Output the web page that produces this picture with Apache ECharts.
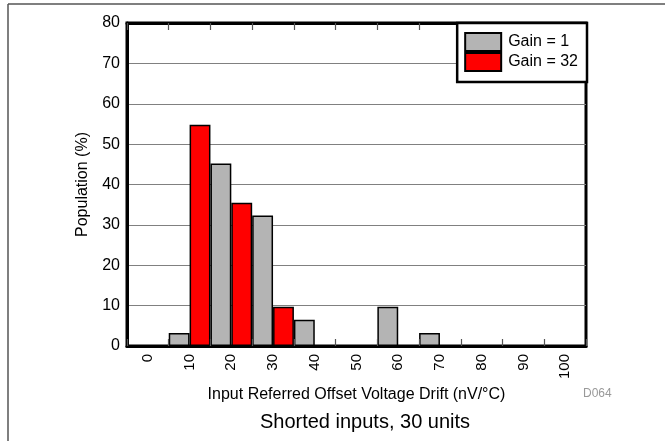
<!DOCTYPE html>
<html>
<head>
<meta charset="utf-8">
<script src="https://cdn.jsdelivr.net/npm/echarts@6/dist/echarts.min.js"></script>
<style>html,body{margin:0;padding:0;background:#fff;}#c{width:665px;height:441px;}</style>
</head>
<body>
<div id="c"></div>
<script>
const categories = ['0','10','20','30','40','50','60','70','80','90','100'];
const gain1 = [null, 3.2, 45.2, 32.3, 6.5, null, 9.7, 3.2, null, null, null];
const gain32 = [null, 54.8, 35.5, 9.7, null, null, null, null, null, null, null];
const yTicks = {min: 0, max: 80, interval: 10};

const FONT = '"Liberation Sans", Arial, Helvetica, sans-serif';
const chart = echarts.init(document.getElementById('c'), null, {renderer: 'canvas'});
const tickStyle = {show: true, inside: true, length: 7, interval: 0, lineStyle: {color: '#555', width: 1.2}};
chart.setOption({
  animation: false,
  textStyle: {fontFamily: FONT},
  grid: {left: 127, right: 79, top: 23, bottom: 95, show: true, borderColor: '#000', borderWidth: 3, backgroundColor: 'transparent'},
  legend: {
    orient: 'vertical', right: 78, top: 23,
    backgroundColor: '#fff', borderColor: '#000', borderWidth: 2.5,
    padding: [9, 9, 10, 7], itemGap: 0, itemWidth: 36, itemHeight: 18,
    icon: 'rect',
    textStyle: {fontSize: 16, color: '#000', fontFamily: FONT, padding: [0, 0, 0, 2]},
    data: ['Gain = 1', 'Gain = 32'], z: 10
  },
  xAxis: [{
    type: 'category', data: categories, boundaryGap: true, position: 'bottom',
    axisLine: {lineStyle: {color: '#000', width: 3}},
    axisTick: tickStyle,
    axisLabel: {rotate: 90, fontSize: 15, color: '#000', margin: 8, fontFamily: FONT, interval: 0},
    name: 'Input Referred Offset Voltage Drift (nV/°C)', nameLocation: 'middle', nameGap: 37,
    nameTextStyle: {fontSize: 16, color: '#000', fontFamily: FONT},
    z: 5
  }, {
    type: 'category', data: categories, boundaryGap: true, position: 'top',
    axisLine: {show: true, lineStyle: {color: '#000', width: 3}},
    axisTick: tickStyle,
    axisLabel: {show: false},
    z: 5
  }],
  yAxis: {
    type: 'value', min: yTicks.min, max: yTicks.max, interval: yTicks.interval,
    axisLine: {show: true, lineStyle: {color: '#000', width: 3}},
    axisTick: {show: false},
    axisLabel: {fontSize: 16, color: '#000', margin: 7, fontFamily: FONT},
    splitLine: {lineStyle: {color: '#808080', width: 1}},
    name: 'Population (%)', nameLocation: 'middle', nameGap: 36,
    nameTextStyle: {fontSize: 16, color: '#000', fontFamily: FONT}
  },
  series: [{
    name: 'Gain = 1', type: 'bar', data: gain1, barGap: '0%', barCategoryGap: '0%',
    itemStyle: {color: '#b4b4b4', borderColor: '#000', borderWidth: 1.5}
  }, {
    name: 'Gain = 32', type: 'bar', data: gain32, barGap: '0%', barCategoryGap: '0%',
    itemStyle: {color: '#ff0000', borderColor: '#000', borderWidth: 1.5}
  }],
  graphic: [
    {type: 'line', shape: {x1: 8, y1: 4, x2: 665, y2: 4}, style: {stroke: '#555', lineWidth: 1.5}},
    {type: 'line', shape: {x1: 8, y1: 4, x2: 8, y2: 441}, style: {stroke: '#555', lineWidth: 1.5}},
    {type: 'text', x: 365, y: 422, style: {text: 'Shorted inputs, 30 units', font: '20px ' + FONT, fill: '#000', textAlign: 'center', textVerticalAlign: 'middle'}},
    {type: 'text', x: 583, y: 394, style: {text: 'D064', font: '12px ' + FONT, fill: '#999', textAlign: 'left', textVerticalAlign: 'middle'}}
  ]
});
</script>
</body>
</html>
